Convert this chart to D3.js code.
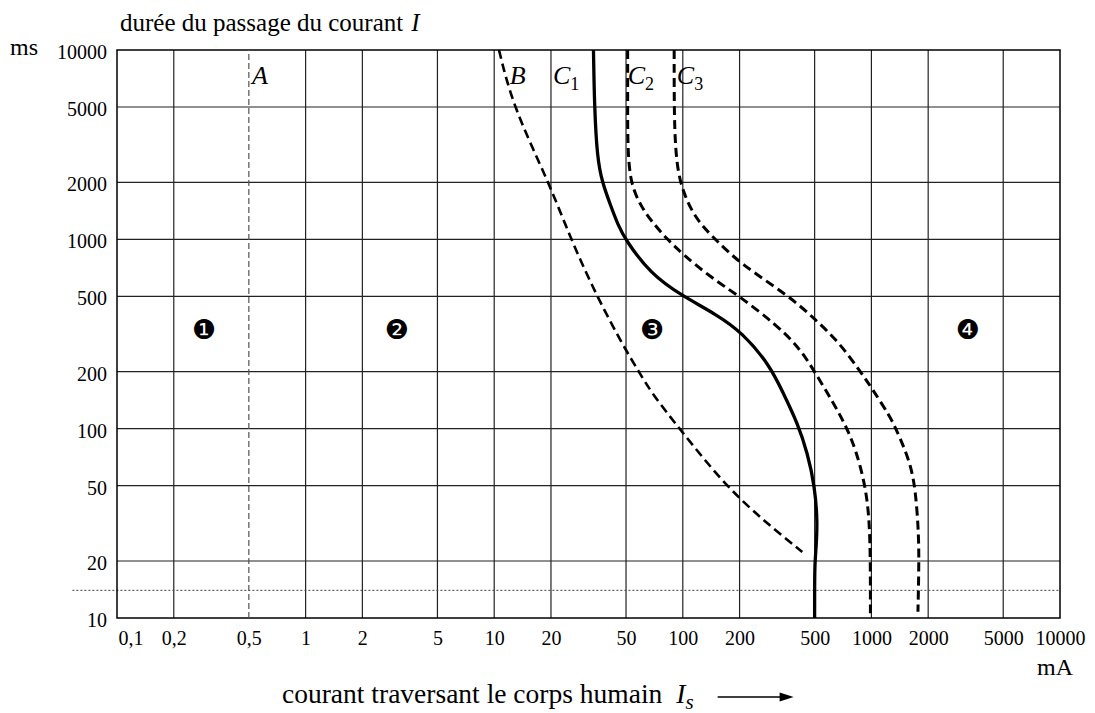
<!DOCTYPE html>
<html>
<head>
<meta charset="utf-8">
<script src="https://cdn.jsdelivr.net/npm/d3@7"></script>
<style>
  body { margin: 0; background: #fff; }
  svg text { font-family: "Liberation Serif", "Times New Roman", serif; fill: #000; }
  svg text.zone { font-family: "DejaVu Sans", sans-serif; }
</style>
</head>
<body>
<svg></svg>
<script>
// tick values and labels (French decimal comma)
const xTicks = [0.1, 0.2, 0.5, 1, 2, 5, 10, 20, 50, 100, 200, 500, 1000, 2000, 5000, 10000];
const xTickLabels = ["0,1", "0,2", "0,5", "1", "2", "5", "10", "20", "50", "100", "200", "500", "1000", "2000", "5000", "10000"];
const yTicks = [10, 20, 50, 100, 200, 500, 1000, 2000, 5000, 10000];

// curves: [current mA, duration ms]
const curveA = [[0.5, 10], [0.5, 10000]];
const curveB = [[10.6, 10000], [12.6, 5000], [19.5, 2000], [25.5, 1000], [35, 500], [49, 267],
  [58.5, 200], [69, 152], [96, 100], [168, 50], [275, 32], [430, 22.3]];
const curveC1 = [[33.6, 10000], [34, 5000], [35.2, 2670], [37.4, 2000], [41.2, 1530], [45.5, 1180],
  [49.5, 1000], [67, 660], [100, 500], [149, 404], [207, 322], [289, 216], [338, 157], [406, 107],
  [459, 74], [500, 50], [519, 32], [507, 22.3], [501, 19], [500, 14], [500, 10]];
const curveC2 = [[51, 10000], [51, 5000], [51, 3240], [52.4, 2000], [60, 1490], [69, 1230], [82.6, 1000],
  [99, 843], [138, 638], [200, 500], [311, 356], [416, 267], [500, 200], [620, 140], [720, 107],
  [823, 79], [930, 50], [976, 33], [988, 20], [988, 10.4]];
const curveC3 = [[90, 10000], [90, 5000], [91, 3240], [95, 2000], [116, 1280], [149, 1000],
  [200, 747], [368, 500], [500, 380], [670, 288], [875, 200], [1000, 165], [1254, 116], [1350, 100],
  [1614, 66], [1720, 46], [1785, 27], [1785, 18], [1765, 10.8]];

// dotted threshold line
const thresholdMs = 14;
const thresholdRange = [0.058, 10000];

// zone numbers
const zoneLabels = ["❶", "❷", "❸", "❹"];
const zoneCurrents = [0.29, 3.05, 68.7, 3250];
const zoneTime = 335;

// curve names
const curveNames = ["A", "B", "C", "C", "C"];
const curveSubs = ["", "", "1", "2", "3"];
const curveNameCurrents = [0.52, 12.1, 20.5, 51, 93];
const curveNameTime = 6600;

const margin = { top: 50, right: 35, bottom: 95, left: 117 };
const width = 1095 - margin.left - margin.right;
const height = 713 - margin.top - margin.bottom;

const root = d3.select("svg").attr("width", 1095).attr("height", 713);
const svg = root.append("g").attr("transform", `translate(${margin.left},${margin.top})`);

const x = d3.scaleLog().domain([0.1, 10000]).range([0, width]);
const y = d3.scaleLog().domain([10, 10000]).range([height, 0]);

// grid
svg.append("g").selectAll("line")
  .data(xTicks.filter(d => d !== 0.1 && d !== 0.5 && d !== 10000))
  .join("line")
  .attr("x1", d => x(d)).attr("x2", d => x(d))
  .attr("y1", 0).attr("y2", height)
  .attr("stroke", "#222").attr("stroke-width", 1.2);

svg.append("g").selectAll("line")
  .data(yTicks.filter(d => d !== 10 && d !== 10000))
  .join("line")
  .attr("y1", d => y(d)).attr("y2", d => y(d))
  .attr("x1", 0).attr("x2", width)
  .attr("stroke", "#222").attr("stroke-width", 1.2);

svg.append("line")
  .attr("x1", x(thresholdRange[0])).attr("x2", x(thresholdRange[1]))
  .attr("y1", y(thresholdMs)).attr("y2", y(thresholdMs))
  .attr("stroke", "#444").attr("stroke-width", 1)
  .attr("stroke-dasharray", "2,2");

svg.append("rect")
  .attr("width", width).attr("height", height)
  .attr("fill", "none").attr("stroke", "#000").attr("stroke-width", 1.5);

// axes
const xAxis = d3.axisBottom(x).tickValues(xTicks).tickSize(0).tickPadding(13)
  .tickFormat((d, i) => xTickLabels[i]);
const gx = svg.append("g").attr("transform", `translate(0,${height})`).call(xAxis);
gx.select(".domain").remove();
gx.selectAll("text").attr("font-size", 20);
gx.selectAll(".tick").filter(d => d === 0.1).select("text")
  .attr("text-anchor", "start").attr("dx", 1);

const yAxis = d3.axisLeft(y).tickValues(yTicks).tickSize(0).tickPadding(10).tickFormat(d3.format("d"));
const gy = svg.append("g").call(yAxis);
gy.select(".domain").remove();
gy.selectAll("text").attr("font-size", 20).attr("dy", "0.42em");

// curves
const line = d3.line()
  .x(d => x(d[0]))
  .y(d => y(d[1]))
  .curve(d3.curveBasis);

svg.append("path").attr("d", line(curveA))
  .attr("fill", "none").attr("stroke", "#555").attr("stroke-width", 1.2)
  .attr("stroke-dasharray", "6,3");

[
  { data: curveB, dash: "9,5", w: 2.6 },
  { data: curveC1, dash: null, w: 3.3 },
  { data: curveC2, dash: "9,5", w: 3 },
  { data: curveC3, dash: "9,5", w: 3 }
].forEach(c => {
  svg.append("path").attr("d", line(c.data))
    .attr("fill", "none").attr("stroke", "#000")
    .attr("stroke-width", c.w)
    .attr("stroke-dasharray", c.dash);
});

// curve names
const names = svg.append("g").selectAll("text")
  .data(curveNames)
  .join("text")
  .attr("x", (d, i) => x(curveNameCurrents[i]))
  .attr("y", y(curveNameTime))
  .attr("font-size", 26);
names.append("tspan").attr("font-style", "italic").text(d => d);
names.append("tspan").attr("font-size", 18).attr("dy", 6).text((d, i) => curveSubs[i]);

// zone numbers
svg.append("g").selectAll("text")
  .data(zoneLabels)
  .join("text")
  .attr("class", "zone")
  .attr("x", (d, i) => x(zoneCurrents[i]))
  .attr("y", y(zoneTime))
  .attr("text-anchor", "middle")
  .attr("dominant-baseline", "central")
  .attr("font-size", 27)
  .text(d => d);

// titles
const title = root.append("text").attr("x", 120).attr("y", 31).attr("font-size", 25);
title.append("tspan").text("durée du passage du courant");
title.append("tspan").attr("dx", 8).attr("font-style", "italic").text("I");

root.append("text").attr("x", 10).attr("y", 55).attr("font-size", 24).text("ms");
root.append("text").attr("x", 1073).attr("y", 675).attr("text-anchor", "end").attr("font-size", 24).text("mA");

const xTitle = root.append("text").attr("x", 282).attr("y", 703).attr("font-size", 27.5);
xTitle.append("tspan").text("courant traversant le corps humain");
xTitle.append("tspan").attr("dx", 14).attr("font-style", "italic").text("I");
xTitle.append("tspan").attr("dy", 6).attr("font-size", 21).attr("font-style", "italic").text("s");

const tb = xTitle.node().getBBox();
const ay = 697;
root.append("line")
  .attr("x1", tb.x + tb.width + 24).attr("x2", tb.x + tb.width + 88)
  .attr("y1", ay).attr("y2", ay)
  .attr("stroke", "#000").attr("stroke-width", 1.6);
root.append("path")
  .attr("d", d3.line()([[tb.x + tb.width + 86, ay - 4.5], [tb.x + tb.width + 100, ay], [tb.x + tb.width + 86, ay + 4.5]]))
  .attr("fill", "#000");
</script>
</body>
</html>
